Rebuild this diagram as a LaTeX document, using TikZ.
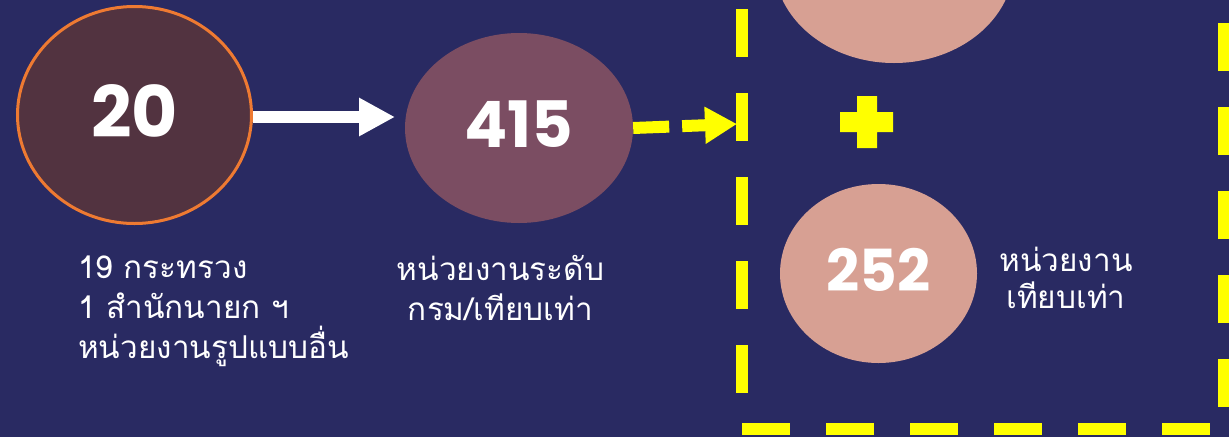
\documentclass[tikz,border=0pt]{standalone}
\usepackage{fontspec}
\setmainfont{Poppins}
\newfontfamily\thaifont[Script=Thai]{Loma}
\newfontfamily\numfont{Poppins}
\usepackage{tikz}
\usetikzlibrary{shapes.geometric,arrows.meta}
\definecolor{bgnavy}{HTML}{292A62}
\definecolor{darkplum}{HTML}{523340}
\definecolor{ringorange}{HTML}{EE7A32}
\definecolor{midplum}{HTML}{7B4D62}
\definecolor{salmon}{HTML}{D7A093}
\definecolor{brightyellow}{HTML}{FFFF00}

\begin{document}
\begin{tikzpicture}[x=1pt,y=-1pt,
  blob/.style={ellipse, inner sep=0pt, text=white, text depth=8pt},
  numfont/.style={font=\numfont\bfseries\fontsize{#1}{#1}\selectfont},
  caption/.style={text=white, inner sep=0pt, font=\thaifont\fontsize{31.5}{40}\selectfont},
  boxline/.style={brightyellow, line width=12pt, dash pattern=on 48pt off 36pt}]
\useasboundingbox (0,0) rectangle (1229,437);
\clip (0,0) rectangle (1229,437);
\fill [bgnavy] (0,0) rectangle (1229,437);
% circles
\node [blob, numfont=71, fill=darkplum, draw=ringorange, line width=3pt,
  minimum width=234pt, minimum height=217pt] (n20) at (134.5,115) {20};
\node [blob, numfont=64, fill=midplum, minimum width=228pt, minimum height=190pt] (n415) at (519,128) {415};
\node [blob, fill=salmon, minimum width=240pt, minimum height=200pt] (ntop) at (894,-37) {};
\node [blob, numfont=58, fill=salmon, minimum width=197pt, minimum height=179pt] (n252) at (878.5,273.5) {252};
% arrows
\coordinate (whitetip) at (395,117);
\coordinate (yellowtip) at (737,124);
\draw [white, line width=12pt, -{Triangle[length=36pt,width=36pt]}] ([yshift=-2pt]n20.east) -- (whitetip);
\draw [brightyellow, line width=12pt, dash pattern=on 36pt off 13pt,
  -{Triangle[length=32pt,width=35pt]}] (n415.east) -- (yellowtip);
% dashed box
\draw [boxline] (742,428.5) -- (1224,428.5);
\draw [boxline, dash phase=48pt] (742,428.5) -- (742,-80);
\draw [boxline, dash phase=62.5pt] (1224,428.5) -- (1224,-80);
\fill [brightyellow] (857,96) rectangle (877,148) (840,112) rectangle (893,132);
% captions
\node [caption, anchor=base west, align=left] (tleft) at (78,358)
  {19 กระทรวง\\1 สำนักนายก ฯ\\หน่วยงานรูปแบบอื่น};
\node [caption, anchor=base, align=center] (tmid) at (500.5,320)
  {หน่วยงานระดับ\\กรม/เทียบเท่า};
\node [caption, anchor=base, align=center, font=\thaifont\fontsize{31.5}{37}\selectfont] (tright) at (1066,308)
  {หน่วยงาน\\เทียบเท่า};
\end{tikzpicture}
\end{document}
